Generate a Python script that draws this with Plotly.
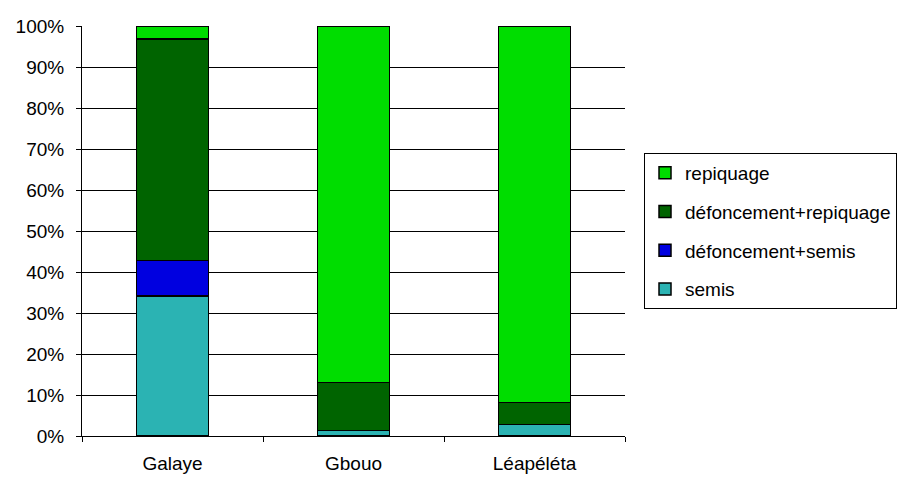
import plotly.graph_objects as go

categories = ["Galaye", "Gbouo", "Léapéléta"]
semis = [34.1, 1.4, 2.8]
defonc_semis = [8.7, 0.0, 0.0]
defonc_repiquage = [54.0, 11.7, 5.4]
repiquage = [3.2, 86.9, 91.8]
y_ticks = [0, 10, 20, 30, 40, 50, 60, 70, 80, 90, 100]
y_tick_labels = [f"{v}%" for v in y_ticks]

series = [
    ("semis", semis, "#2bb3b3", 4),
    ("défoncement+semis", defonc_semis, "#0000e0", 3),
    ("défoncement+repiquage", defonc_repiquage, "#006400", 2),
    ("repiquage", repiquage, "#00dd00", 1),
]

fig = go.Figure()
for name, vals, col, rank in series:
    fig.add_trace(go.Bar(
        x=categories, y=vals, name=name,
        marker=dict(color=col, line=dict(color="black", width=1.5)),
        legendgroup=name, legendrank=rank,
    ))

font = dict(family="Liberation Sans, Arial, sans-serif", size=19, color="black")
fig.update_layout(
    barmode="stack",
    bargap=0.6,
    width=899, height=469,
    margin=dict(l=74, r=282, t=18, b=41, autoexpand=False),
    paper_bgcolor="white", plot_bgcolor="white",
    font=font,
    showlegend=True,
    legend=dict(
        x=1.035, xanchor="left", y=0.50, yanchor="middle",
        traceorder="grouped", tracegroupgap=11,
        bordercolor="black", borderwidth=1, font=font,
        itemwidth=30,
    ),
    xaxis=dict(
        showline=True, linecolor="black", linewidth=1,
        ticks="outside", ticklen=5, tickcolor="black",
        tickson="boundaries", showgrid=False,
        ticklabelstandoff=10, automargin=False,
    ),
    yaxis=dict(
        range=[0, 100], tickvals=y_ticks, ticktext=y_tick_labels,
        showline=True, linecolor="black", linewidth=1,
        ticks="outside", ticklen=5, tickcolor="black",
        showgrid=True, gridcolor="black", gridwidth=1,
        zeroline=False, ticklabelstandoff=8, automargin=False,
    ),
)

fig.write_html("out.html")
